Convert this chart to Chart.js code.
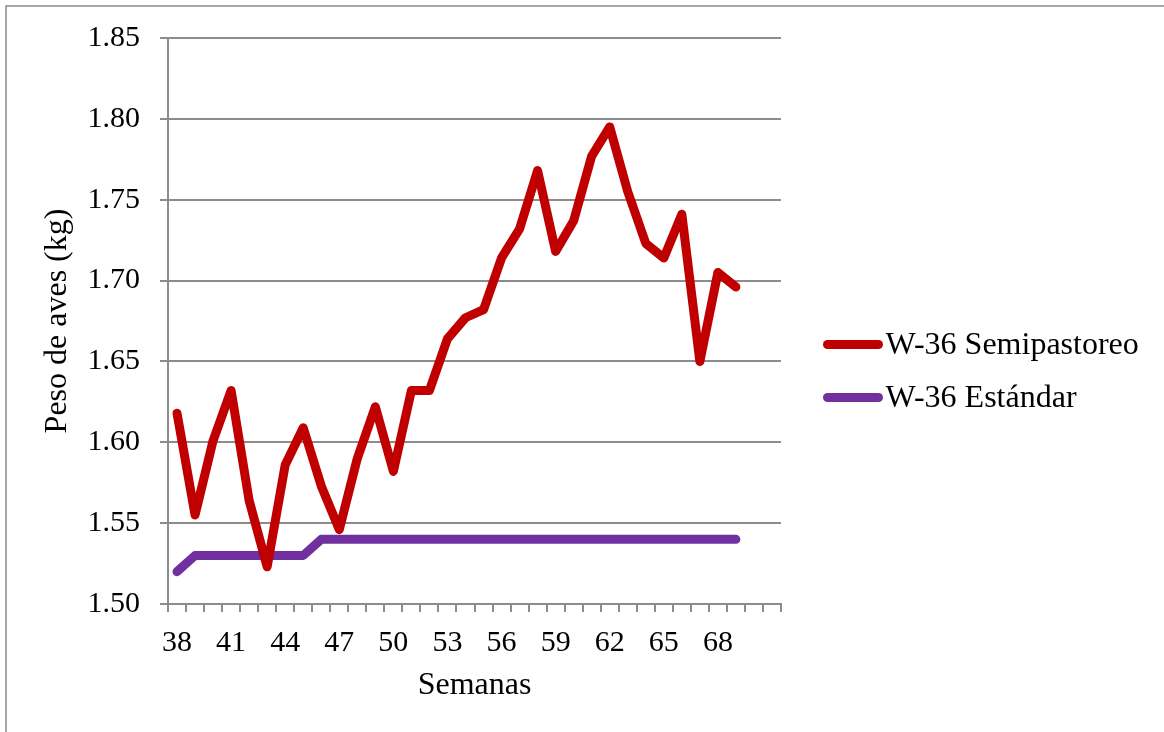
<!DOCTYPE html>
<html>
<head>
<meta charset="utf-8">
<title>Peso de aves</title>
<script src="https://cdn.jsdelivr.net/npm/chart.js@4.4.1/dist/chart.umd.min.js"></script>
<style>
  html, body { margin: 0; padding: 0; background: #ffffff; }
  canvas { display: block; }
</style>
</head>
<body>
<canvas id="chart" width="1164" height="732"></canvas>
<script>
// Semanas de edad con registro de peso
const weeks = [38, 39, 40, 41, 42, 43, 44, 45, 46, 47, 48, 49, 50, 51, 52, 53,
               54, 55, 56, 57, 58, 59, 60, 61, 62, 63, 64, 65, 66, 67, 68, 69];

// Peso promedio (kg) de las aves en semipastoreo
const semipastoreo = [1.618, 1.555, 1.601, 1.632, 1.564, 1.523, 1.586, 1.609,
                      1.573, 1.546, 1.590, 1.622, 1.582, 1.632, 1.632, 1.664,
                      1.677, 1.682, 1.714, 1.732, 1.768, 1.718, 1.737, 1.777,
                      1.795, 1.755, 1.723, 1.714, 1.741, 1.650, 1.705, 1.696];

// Peso de referencia (kg) del estándar de la línea W-36
const estandar = [1.52, 1.53, 1.53, 1.53, 1.53, 1.53, 1.53, 1.53,
                  1.54, 1.54, 1.54, 1.54, 1.54, 1.54, 1.54, 1.54,
                  1.54, 1.54, 1.54, 1.54, 1.54, 1.54, 1.54, 1.54,
                  1.54, 1.54, 1.54, 1.54, 1.54, 1.54, 1.54, 1.54];

// Dos posiciones vacías al final del eje de categorías
const trailingSlots = ['', ''];
const categories = weeks.map(String).concat(trailingSlots);

const seriesNames = ['W-36 Semipastoreo', 'W-36 Estándar'];
const seriesColors = ['#C00000', '#7030A0'];

const FONT = 'Liberation Serif, Times New Roman, serif';
const GRID = '#8c8c8c';
const TICK_SIZE = 30;
const TITLE_SIZE = 32;

// Fondo blanco y marco gris del área del gráfico
const framePlugin = {
  id: 'frame',
  beforeDraw(chart) {
    const ctx = chart.ctx;
    ctx.save();
    ctx.fillStyle = '#ffffff';
    ctx.fillRect(0, 0, chart.width, chart.height);
    ctx.strokeStyle = '#8a8a8a';
    ctx.lineWidth = 1.5;
    ctx.strokeRect(6, 6, chart.width + 20, chart.height + 20);
    ctx.restore();
  }
};

// Leyenda lateral: trazo corto con extremos redondeados y nombre de la serie
const sideLegend = {
  id: 'sideLegend',
  afterDraw(chart, args, opts) {
    const ctx = chart.ctx;
    chart.data.datasets.forEach((ds, i) => {
      const y = opts.top + i * opts.rowGap;
      ctx.save();
      ctx.strokeStyle = ds.borderColor;
      ctx.lineWidth = opts.lineWidth;
      ctx.lineCap = 'round';
      ctx.beginPath();
      ctx.moveTo(opts.x, y);
      ctx.lineTo(opts.x + opts.lineLength, y);
      ctx.stroke();
      ctx.font = opts.fontSize + 'px ' + FONT;
      ctx.fillStyle = '#000000';
      ctx.textBaseline = 'middle';
      ctx.textAlign = 'left';
      ctx.fillText(ds.label, opts.x + opts.lineLength + opts.gap, y + 1);
      ctx.restore();
    });
  }
};

new Chart(document.getElementById('chart'), {
  type: 'line',
  data: {
    labels: categories,
    datasets: [
      {
        label: seriesNames[0],
        data: semipastoreo,
        borderColor: seriesColors[0],
        backgroundColor: seriesColors[0],
        borderWidth: 9,
        borderCapStyle: 'round',
        borderJoinStyle: 'round',
        pointRadius: 0,
        tension: 0,
        fill: false
      },
      {
        label: seriesNames[1],
        data: estandar,
        borderColor: seriesColors[1],
        backgroundColor: seriesColors[1],
        borderWidth: 9,
        borderCapStyle: 'round',
        borderJoinStyle: 'round',
        pointRadius: 0,
        tension: 0,
        fill: false
      }
    ]
  },
  options: {
    responsive: false,
    animation: false,
    devicePixelRatio: 1,
    layout: { padding: { top: 35, right: 383, bottom: 0, left: 0 } },
    plugins: {
      legend: { display: false },
      tooltip: { enabled: false },
      sideLegend: { x: 827.5, top: 344.5, rowGap: 53, lineLength: 51, lineWidth: 9, gap: 7, fontSize: TITLE_SIZE }
    },
    scales: {
      x: {
        type: 'category',
        offset: true,
        afterFit(scale) { scale.height = 128; },
        grid: {
          offset: true,
          drawOnChartArea: false,
          drawTicks: true,
          tickLength: 8,
          color: GRID,
          lineWidth: 2
        },
        border: { display: true, color: GRID, width: 2 },
        ticks: {
          autoSkip: false,
          maxRotation: 0,
          minRotation: 0,
          padding: 13,
          color: '#000000',
          font: { family: FONT, size: TICK_SIZE },
          callback(value, index) {
            return index % 3 === 0 ? this.getLabelForValue(value) : '';
          }
        },
        title: {
          display: true,
          text: 'Semanas',
          color: '#000000',
          font: { family: FONT, size: TITLE_SIZE },
          padding: { top: 0, bottom: 27 }
        }
      },
      y: {
        min: 1.50,
        max: 1.85,
        afterFit(scale) { scale.width = 168; },
        grid: {
          drawTicks: true,
          tickLength: 8,
          color: GRID,
          lineWidth: 2
        },
        border: { display: true, color: GRID, width: 2 },
        ticks: {
          stepSize: 0.05,
          padding: 20,
          color: '#000000',
          font: { family: FONT, size: TICK_SIZE },
          callback(value) { return value.toFixed(2); }
        },
        title: {
          display: true,
          text: 'Peso de aves (kg)',
          color: '#000000',
          font: { family: FONT, size: TITLE_SIZE },
          padding: { top: 38, bottom: 0 }
        }
      }
    }
  },
  plugins: [framePlugin, sideLegend]
});
</script>
</body>
</html>
